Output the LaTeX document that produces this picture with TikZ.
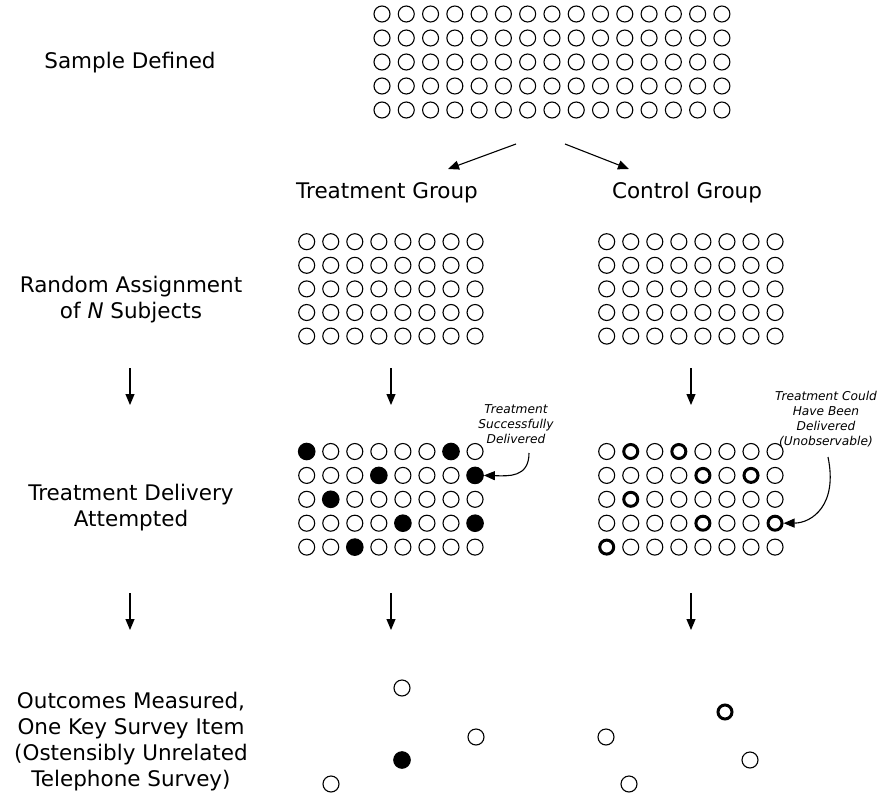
\documentclass[tikz,border=0pt]{standalone}
\usepackage{fontspec}
\setmainfont{DejaVu Sans}
\usetikzlibrary{arrows.meta}

\tikzset{
  dot/.style={shape=circle,draw=black,line width=1.1pt,minimum size=16pt,inner sep=0pt},
  hit/.style={dot,fill=black,minimum size=16.5pt},
  could/.style={dot,line width=3pt,minimum size=14pt},
  stage/.style={align=center,font=\fontsize{21.5}{26}\selectfont},
  note/.style={align=center,font=\fontsize{12.2}{15}\selectfont\itshape},
  flow/.style={-{Triangle[length=11pt,width=9pt]},line width=1.1pt}
}

% which subjects get the treatment / could have got it
\foreach \k in {1-1,1-7,2-4,2-8,3-2,4-5,4-8,5-3} {\expandafter\gdef\csname hitT\k\endcsname{}}
\foreach \k in {1-2,1-4,2-5,2-7,3-2,4-5,4-8,5-1} {\expandafter\gdef\csname hitC\k\endcsname{}}

\begin{document}
\begin{tikzpicture}[x=1pt,y=-1pt]
\useasboundingbox (0,0) rectangle (881,795);

% stage labels
\node[stage] (sample) at (130,63) {Sample Defined};
\node[stage] (random) at (131,299.5) {Random Assignment\\of \textit{N} Subjects};
\node[stage] (deliver) at (131,508) {Treatment Delivery\\Attempted};
\node[stage] (outcome) at (131,742) {Outcomes Measured,\\One Key Survey Item\\(Ostensibly Unrelated\\Telephone Survey)};
\node[stage] (tgroup) at (387,193) {Treatment Group};
\node[stage] (cgroup) at (687,193) {Control Group};

% sample
\foreach \r in {1,...,5}
  \foreach \c in {1,...,15}
    \node[dot] (s-\r-\c) at ({382+24.28*(\c-1)},{14+24*(\r-1)}) {};

% random assignment
\foreach \r in {1,...,5}
  \foreach \c in {1,...,8} {
    \node[dot] (ta-\r-\c) at ({306.7+24.05*(\c-1)},{241.7+23.6*(\r-1)}) {};
    \node[dot] (ca-\r-\c) at ({606.7+24.05*(\c-1)},{241.7+23.6*(\r-1)}) {};
  }

% treatment delivery
\foreach \r in {1,...,5}
  \foreach \c in {1,...,8} {
    \ifcsname hitT\r-\c\endcsname\def\sty{hit}\else\def\sty{dot}\fi
    \node[\sty] (td-\r-\c) at ({306.7+24.05*(\c-1)},{451.5+23.9*(\r-1)}) {};
    \ifcsname hitC\r-\c\endcsname\def\sty{could}\else\def\sty{dot}\fi
    \node[\sty] (cd-\r-\c) at ({606.7+24.05*(\c-1)},{451.5+23.9*(\r-1)}) {};
  }

% outcomes
\node[dot] (to-1) at (402,688) {};
\node[dot] (to-2) at (476,737) {};
\node[hit] (to-3) at (402,760) {};
\node[dot] (to-4) at (331,784) {};
\node[dot] (co-1) at (606,737) {};
\node[could] (co-2) at (725,712) {};
\node[dot] (co-3) at (750,760) {};
\node[dot] (co-4) at (629,784) {};

% notes
\node[note] (tnote) at (516,424) {Treatment\\Successfully\\Delivered};
\node[note] (cnote) at (826,419) {Treatment Could\\Have Been\\Delivered\\(Unobservable)};

% arrows
\coordinate (split-l) at (516,144);
\coordinate (split-r) at (565,144);
\coordinate (tg-in) at (448,169);
\coordinate (cg-in) at (629,169);
\draw[flow] (split-l) -- (tg-in);
\draw[flow] (split-r) -- (cg-in);

\foreach \x/\n in {130/l,391/t,691/c} {
  \coordinate (\n-a1) at (\x,368);
  \coordinate (\n-b1) at (\x,405);
  \coordinate (\n-a2) at (\x,593);
  \coordinate (\n-b2) at (\x,630);
  \draw[flow] (\n-a1) -- (\n-b1);
  \draw[flow] (\n-a2) -- (\n-b2);
}

\coordinate (tn-from) at (529,453);
\coordinate (cn-from) at (828,457);
\draw[flow] (tn-from) .. controls (529,478) and (508,476) .. (td-2-8.east);
\draw[flow] (cn-from) .. controls (838,505) and (812,523) .. (cd-4-8.east);
\end{tikzpicture}
\end{document}
